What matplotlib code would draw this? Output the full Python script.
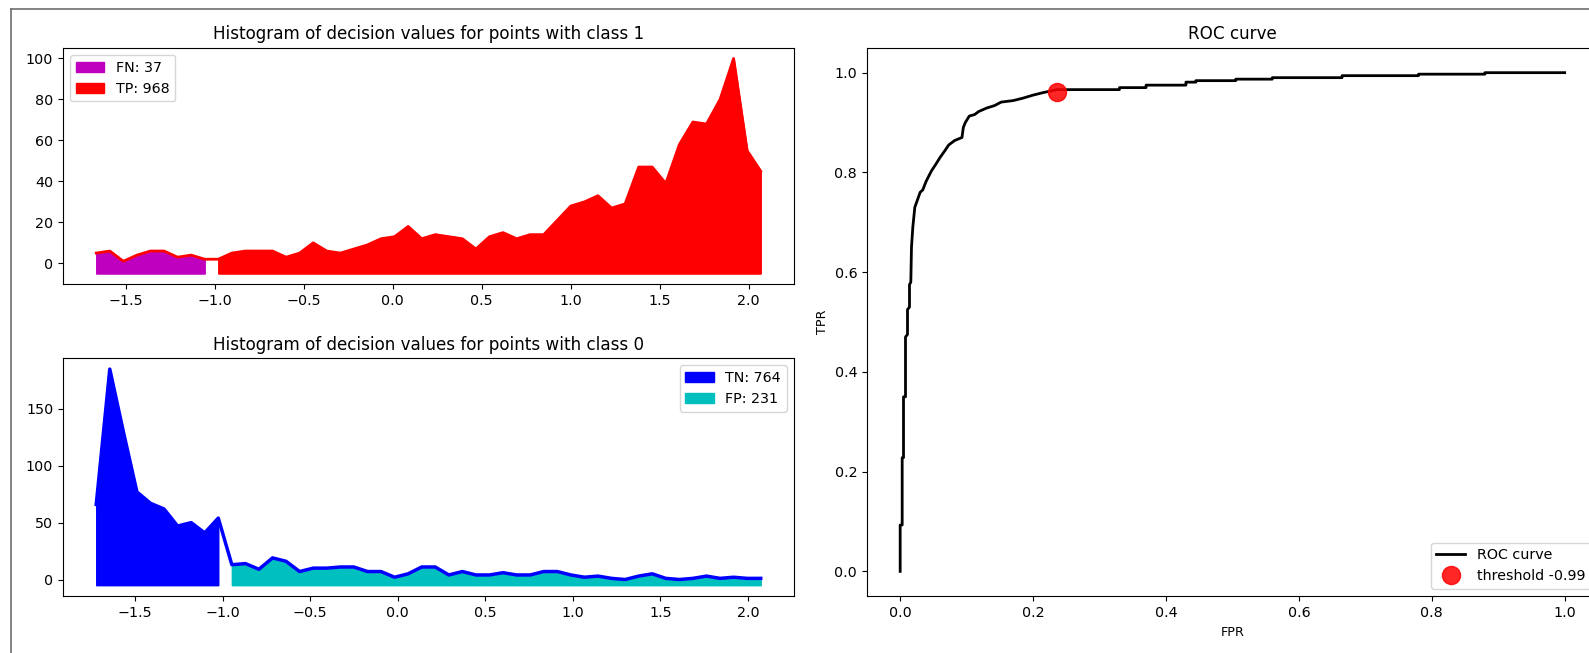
"""Decision-value histograms per class plus the ROC curve with the chosen threshold."""

import matplotlib

matplotlib.use("Agg")
import matplotlib.pyplot as plt
import numpy as np
from matplotlib.lines import Line2D

THRESHOLD = -0.99

# class 1 histogram (counts per bin)
pos_range = (-1.666, 2.068)
pos_counts = [5, 6, 1, 4, 6, 6, 3, 4, 2, 2,
              5, 6, 6, 6, 3, 5, 10, 6, 5, 7,
              9, 12, 13, 18, 12, 14, 13, 12, 7, 13,
              15, 12, 14, 14, 21, 28, 30, 33, 27, 29,
              47, 47, 39, 58, 69, 68, 80, 100, 55, 45]
pos_labels = ["FN: 37", "TP: 968"]

# class 0 histogram
neg_range = (-1.721, 2.073)
neg_counts = [66, 185, 130, 77, 67, 62, 47, 50, 41, 54,
              13, 14, 9, 19, 16, 7, 10, 10, 11, 11,
              7, 7, 2, 5, 11, 11, 4, 7, 4, 4,
              6, 4, 4, 7, 7, 4, 2, 3, 1, 0,
              3, 5, 1, 0, 1, 3, 1, 2, 1, 1]
neg_labels = ["TN: 764", "FP: 231"]

# ROC curve corners
fpr = [0.000, 0.000, 0.003, 0.003, 0.005, 0.005, 0.008, 0.008, 0.011, 0.011,
       0.014, 0.014, 0.016, 0.017, 0.019, 0.022, 0.026, 0.030, 0.034, 0.039,
       0.047, 0.053, 0.060, 0.068, 0.073, 0.082, 0.093, 0.095, 0.098, 0.104,
       0.112, 0.118, 0.130, 0.142, 0.152, 0.170, 0.185, 0.200, 0.215, 0.236,
       0.330, 0.330, 0.370, 0.370, 0.430, 0.430, 0.445, 0.445, 0.505, 0.505,
       0.560, 0.560, 0.665, 0.665, 0.780, 0.780, 0.880, 0.880, 1.000]
tpr = [0.000, 0.093, 0.093, 0.228, 0.228, 0.350, 0.350, 0.470, 0.475, 0.525,
       0.530, 0.575, 0.580, 0.650, 0.690, 0.730, 0.745, 0.760, 0.765, 0.782,
       0.803, 0.815, 0.830, 0.845, 0.855, 0.864, 0.870, 0.890, 0.900, 0.913,
       0.916, 0.922, 0.929, 0.934, 0.941, 0.944, 0.949, 0.955, 0.960, 0.966,
       0.966, 0.970, 0.970, 0.975, 0.975, 0.981, 0.981, 0.984, 0.984, 0.987,
       0.987, 0.990, 0.990, 0.994, 0.994, 0.997, 0.997, 1.000, 1.000]
thr_point = (0.236, 0.962)

BASE = -5


def draw_hist(ax, rng, counts, labels, line_color, colors, lw, title, loc):
    y = np.array(counts, dtype=float)
    x = np.linspace(rng[0], rng[1], len(y))
    below = x < THRESHOLD
    ax.plot(x, y, color=line_color, linewidth=lw)
    ax.fill_between(x[below], y[below], BASE, color=colors[0], label=labels[0])
    ax.fill_between(x[~below], y[~below], BASE, color=colors[1], label=labels[1])
    ax.set_title(title, fontsize=12.1)
    ax.legend(loc=loc)


plt.rcParams["font.size"] = 10.3
fig = plt.figure(figsize=(15.89, 6.53), dpi=100)

ax1 = fig.add_axes([0.03965, 0.5646, 0.4600, 0.3623])
ax2 = fig.add_axes([0.03965, 0.0873, 0.4600, 0.3640])
ax3 = fig.add_axes([0.5456, 0.0868, 0.4600, 0.8401])

draw_hist(ax1, pos_range, pos_counts, pos_labels, "r", ["m", "r"], 2.0,
          "Histogram of decision values for points with class 1", "upper left")
draw_hist(ax2, neg_range, neg_counts, neg_labels, "b", ["b", "c"], 2.5,
          "Histogram of decision values for points with class 0", "upper right")

ax3.plot(fpr, tpr, color="k", linewidth=2, label="ROC curve")
ax3.plot(*thr_point, "o", color="r", alpha=0.85, markersize=13,
         label=f"threshold {THRESHOLD}")
ax3.set_title("ROC curve", fontsize=12.1)
ax3.set_xlabel("FPR", fontsize=9.2)
ax3.set_ylabel("TPR", fontsize=9.2)
ax3.legend(loc="lower right")

# notebook output frame (top and left edges only)
frame_x, frame_y = 10.5 / 1589, 1 - 9.3 / 653
fig.add_artist(Line2D([frame_x, 1], [frame_y, frame_y], color="#6e6e6e", linewidth=1.2))
fig.add_artist(Line2D([frame_x, frame_x], [0, frame_y], color="#6e6e6e", linewidth=1.2))

fig.savefig("out.png", dpi=100)
plt.close(fig)
